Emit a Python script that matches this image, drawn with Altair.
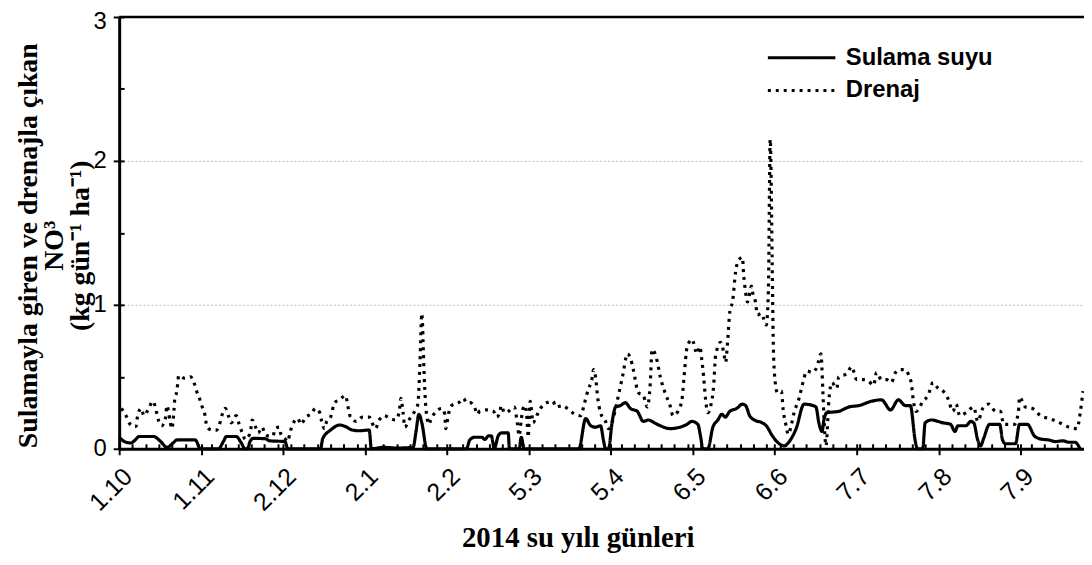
import altair as alt
import pandas as pd

# ---------------- data ----------------
series_names = ["Sulama suyu", "Drenaj"]

tick_days = [0, 31, 62, 93, 124, 155, 186, 217, 248, 279, 310, 341]
tick_labels = ["1.10", "1.11", "2.12", "2.1", "2.2", "5.3", "5.4", "6.5", "6.6", "7.7", "7.8", "7.9"]
minor_tick_days = [5, 10, 15, 20, 25, 30, 35, 40, 45, 50, 55, 60, 65, 70, 75, 80, 85, 90, 95, 100,
                   105, 110, 115, 120, 125, 130, 135, 140, 145, 150, 155, 160, 165, 170, 175, 180,
                   185, 190, 195, 200, 205, 210, 215, 220, 225, 230, 235, 240, 245, 250, 255, 260,
                   265, 270, 275, 280, 285, 290, 295, 300, 305, 310, 315, 320, 325, 330, 335, 340,
                   345, 350, 355, 360]
y_major = [0, 1, 2, 3]
y_minor = [0, 0.5, 1, 1.5, 2, 2.5, 3]
Y_MAX = 3

sulama_days = [0, 2, 4.4, 6, 7.5, 13.1, 15.7, 18.1, 20.7, 21.8, 28.8, 30.7, 37.6, 39.4, 40.6, 44.3,
               46.2, 47.6, 48.5, 49.5, 50.7, 55.1, 57, 62.7, 63.8, 76.2, 77, 80, 83.4, 85.5, 88.2,
               90.9, 94.6, 95.4, 100, 105, 111.2, 112.3, 113.4, 114.5, 116.4, 131.4, 132.6, 134.4,
               137.1, 138.4, 139.7, 140.8, 141.9, 143.4, 144.6, 147.2, 147.6, 151.3, 152.1, 153.2,
               173.9, 176.5, 178.4, 180.2, 182.1, 183.3, 184, 185.1, 186.6, 187.8, 189.6, 191.5,
               193.4, 196, 198.3, 200.2, 202.5, 204.7, 208.4, 212.2, 214.8, 216.7, 218.9, 220,
               220.8, 222.7, 224.6, 226.5, 228, 229.3, 231, 233.6, 235.8, 237, 238.5, 240.3, 243.3,
               244.8, 247.1, 249.7, 251.6, 253.5, 256.1, 259.1, 262.5, 263.6, 264.7, 265.9, 266.6,
               267.7, 272.2, 276, 279.8, 284.6, 288.4, 291.8, 294.8, 297.4, 299.3, 301.2, 302, 304,
               304.9, 307.2, 311.7, 314.5, 316.2, 317.3, 320.3, 322.2, 323.3, 324.8, 325.9, 327,
               329.3, 333.1, 334.2, 335.3, 339.1, 340.6, 343.6, 346.2, 348.1, 351.9, 354.1, 357,
               359.4, 361.6, 363.5]
sulama_vals = [0.08, 0.05, 0.04, 0.06, 0.085, 0.085, 0.05, 0.01, 0.045, 0.062, 0.062, 0.0, 0.0, 0.05,
               0.085, 0.085, 0.04, 0.0, 0.0, 0.05, 0.072, 0.07, 0.055, 0.05, 0.0, 0.0, 0.07, 0.13,
               0.165, 0.155, 0.13, 0.125, 0.13, 0.0, 0.01, 0.005, 0.01, 0.12, 0.24, 0.18, 0.0, 0.0,
               0.06, 0.08, 0.08, 0.065, 0.09, 0.09, 0.0, 0.09, 0.11, 0.11, 0.0, 0.0, 0.08, 0.0,
               0.0, 0.21, 0.16, 0.15, 0.16, 0.05, 0.0, 0.0, 0.2, 0.29, 0.30, 0.32, 0.28, 0.26, 0.19,
               0.20, 0.18, 0.16, 0.14, 0.15, 0.17, 0.19, 0.17, 0.08, 0.0, 0.0, 0.15, 0.2, 0.24,
               0.22, 0.26, 0.28, 0.31, 0.3, 0.23, 0.2, 0.18, 0.16, 0.09, 0.035, 0.02, 0.05, 0.14,
               0.31, 0.30, 0.29, 0.18, 0.12, 0.2, 0.25, 0.26, 0.29, 0.30, 0.33, 0.34, 0.27, 0.34,
               0.30, 0.30, 0.05, 0.0, 0.0, 0.18, 0.2, 0.18, 0.17, 0.12, 0.16, 0.16, 0.19, 0.18,
               0.06, 0.02, 0.07, 0.17, 0.17, 0.06, 0.035, 0.035, 0.17, 0.17, 0.09, 0.07, 0.06,
               0.05, 0.055, 0.045, 0.045, 0.0]

drenaj_days = [0.8, 2.6, 3.8, 5.3, 6.4, 6.8, 8.3, 9.4, 10.9, 12.8, 13.5, 14.3, 15.0, 16.1, 17.6, 18.0,
               19.2, 19.9, 20.7, 21.0, 21.8, 22.2, 22.5, 24.8, 27.0, 28.5, 29.3, 30.4, 31.2, 32.3,
               33.0, 33.8, 35.3, 36.8, 38.3, 39.0, 40.2, 41.3, 42.4, 44.3, 45.4, 46.6, 47.7, 48.8,
               49.9, 50.3, 51.4, 52.6, 54.1, 55.2, 56.3, 58.2, 59.0, 60.5, 61.2, 62.7, 63.8, 64.6,
               65.7, 67.6, 68.7, 70.6, 72.5, 74.3, 75.9, 76.6, 77.7, 78.5, 80.0, 81.5, 83.4, 85.6,
               86.7, 87.5, 89.7, 92.0, 94.6, 96.9, 98.4, 100.3, 102.5, 104.4, 105.9, 106.6, 107.4,
               108.1, 109.6, 110.8, 112.3, 113.0, 113.8, 114.5, 115.3, 116.0, 117.2, 117.9, 119.4,
               122.0, 123.2, 123.5, 124.7, 125.8, 128.4, 130.3, 131.4, 132.9, 134.4, 135.6, 136.3,
               138.9, 141.6, 142.7, 143.8, 144.6, 145.7, 147.2, 149.5, 150.6, 151.3, 152.1, 152.8,
               153.6, 154.3, 154.7, 155.5, 156.6, 157.7, 158.8, 160.7, 164.1, 165.2, 167.8, 170.1,
               172.4, 174.6, 175.7, 176.5, 177.6, 178.7, 179.5, 180.2, 181.0, 182.1, 184.0, 185.1,
               186.6, 188.5, 190.4, 192.3, 193.4, 194.5, 196.4, 198.3, 199.8, 200.9, 201.6, 203.5,
               204.7, 206.5, 208.4, 209.5, 211.4, 212.9, 213.7, 214.8, 216.7, 218.6, 219.7, 220.4,
               221.1, 221.8, 222.7, 223.8, 224.9, 225.6, 227.5, 228.7, 229.4, 230.2, 231.0, 232.1,
               233.2, 234.3, 235.8, 236.2, 236.9, 237.7, 239.2, 239.6, 240.7, 241.5, 243.0, 243.7,
               244.8, 245.6, 246.3, 247.1, 247.5, 248.2, 249.0, 250.5, 251.2, 252.3, 253.1, 254.2,
               255.3, 257.2, 258.4, 260.2, 262.1, 264.0, 265.5, 266.2, 266.6, 267.4, 268.5, 269.6,
               271.5, 272.2, 275.2, 277.1, 279.0, 281.6, 283.5, 285.4, 286.5, 288.4, 290.3, 292.1,
               293.7, 295.5, 297.4, 298.5, 299.7, 300.4, 301.5, 304.1, 306.0, 307.9, 309.8, 311.7,
               313.5, 315.4, 316.6, 318.0, 320.3, 323.3, 324.8, 326.7, 328.9, 331.6, 333.4, 334.6,
               337.2, 338.7, 340.2, 340.6, 342.8, 345.5, 348.5, 351.9, 354.8, 357.9, 362.4, 363.5,
               364.6]
drenaj_vals = [0.28, 0.23, 0.18, 0.155, 0.155, 0.21, 0.28, 0.23, 0.27, 0.33, 0.30, 0.24, 0.19, 0.16,
               0.22, 0.30, 0.20, 0.14, 0.26, 0.34, 0.40, 0.46, 0.51, 0.49, 0.50, 0.45, 0.40, 0.35,
               0.30, 0.25, 0.17, 0.14, 0.13, 0.13, 0.19, 0.24, 0.28, 0.23, 0.18, 0.23, 0.17, 0.11,
               0.065, 0.08, 0.15, 0.20, 0.16, 0.11, 0.15, 0.10, 0.09, 0.09, 0.14, 0.15, 0.10, 0.07,
               0.05, 0.11, 0.17, 0.21, 0.17, 0.22, 0.24, 0.28, 0.25, 0.19, 0.14, 0.19, 0.22, 0.32,
               0.34, 0.37, 0.28, 0.22, 0.19, 0.22, 0.22, 0.14, 0.20, 0.23, 0.21, 0.20, 0.25, 0.35,
               0.25, 0.15, 0.20, 0.23, 0.28, 0.31, 0.60, 0.94, 0.55, 0.29, 0.17, 0.20, 0.25, 0.28,
               0.24, 0.14, 0.25, 0.30, 0.32, 0.35, 0.32, 0.32, 0.29, 0.24, 0.26, 0.27, 0.26, 0.22,
               0.24, 0.30, 0.25, 0.26, 0.29, 0.18, 0.09, 0.20, 0.28, 0.30, 0.20, 0.08, 0.33, 0.18,
               0.22, 0.26, 0.31, 0.33, 0.29, 0.30, 0.27, 0.24, 0.23, 0.29, 0.35, 0.42, 0.47, 0.55,
               0.50, 0.36, 0.25, 0.19, 0.14, 0.19, 0.34, 0.50, 0.66, 0.63, 0.55, 0.39, 0.37, 0.29,
               0.45, 0.69, 0.61, 0.50, 0.39, 0.30, 0.23, 0.26, 0.34, 0.50, 0.70, 0.76, 0.66, 0.71,
               0.62, 0.50, 0.35, 0.25, 0.30, 0.44, 0.64, 0.74, 0.67, 0.60, 0.75, 0.95, 1.03, 1.23,
               1.31, 1.33, 1.22, 1.10, 1.02, 1.13, 1.09, 1.02, 0.93, 0.94, 0.91, 0.86, 1.10, 2.15,
               1.20, 0.69, 0.46, 0.39, 0.40, 0.27, 0.16, 0.10, 0.16, 0.25, 0.35, 0.44, 0.54, 0.53,
               0.57, 0.66, 0.40, 0.23, 0.02, 0.34, 0.46, 0.42, 0.50, 0.52, 0.57, 0.48, 0.48, 0.47,
               0.44, 0.53, 0.48, 0.48, 0.46, 0.53, 0.55, 0.55, 0.52, 0.45, 0.34, 0.26, 0.33, 0.37,
               0.46, 0.42, 0.40, 0.35, 0.26, 0.31, 0.23, 0.25, 0.29, 0.19, 0.28, 0.31, 0.26, 0.26,
               0.17, 0.17, 0.17, 0.26, 0.36, 0.29, 0.28, 0.23, 0.21, 0.19, 0.16, 0.14, 0.24, 0.40]

df = pd.concat([
    pd.DataFrame({"day": sulama_days, "value": sulama_vals, "series": series_names[0]}),
    pd.DataFrame({"day": drenaj_days, "value": drenaj_vals, "series": series_names[1]}),
], ignore_index=True)
top_df = pd.DataFrame({"v": [Y_MAX]})

label_expr = "[" + ",".join("'%s'" % t for t in tick_labels) + "][indexof([" + \
    ",".join(str(d) for d in tick_days) + "], datum.value)]"

x_scale = alt.Scale(domain=[0, 365], nice=False, zero=False)
y_scale = alt.Scale(domain=[0, Y_MAX], nice=False)

SANS = "Liberation Sans"
SERIF = "Liberation Serif"

lines = alt.Chart(df).mark_line(strokeWidth=3.2, color="black", interpolate="monotone").encode(
    x=alt.X("day:Q", scale=x_scale, axis=alt.Axis(
        values=tick_days, labelExpr=label_expr, labelAngle=-45, labelFont=SANS, labelFontSize=25,
        labelColor="black", labelPadding=9, tickSize=6, tickWidth=2, tickColor="black",
        domainWidth=3, domainColor="black", grid=False,
        title="2014 su yılı günleri", titleFont=SERIF, titleFontWeight="bold", titleFontSize=29,
        titleColor="black", titleX=462, titleY=98, titleBaseline="alphabetic", titleAlign="center")),
    y=alt.Y("value:Q", scale=y_scale, axis=alt.Axis(
        values=y_major, format="d", labelFont=SANS, labelFontSize=24, labelColor="black",
        labelPadding=7,
        labelOffset={"condition": {"test": "datum.value == 3", "value": 5}, "value": 0},
        tickSize=6, tickWidth=2, tickColor="black", domainWidth=3,
        domainColor="black", grid=True, gridColor="#bdbdbd", gridDash=[2, 2], gridWidth=1,
        title=["Sulamayla giren ve drenajla çıkan", "NO³", "(kg gün⁻¹ ha⁻¹)"],
        titleFont=SERIF, titleFontWeight="bold", titleFontSize=28, titleColor="black",
        titleAngle=270, titleX=-83, titleY=230, titleAlign="center", titleBaseline="alphabetic",
        titleLineHeight=26)),
    strokeDash=alt.StrokeDash("series:N", scale=alt.Scale(domain=series_names, range=[[1, 0], [3, 5]]),
                              legend=alt.Legend(
                                  orient="none", legendX=652, legendY=27, title=None,
                                  symbolType="stroke", symbolSize=4624, symbolStrokeWidth=3,
                                  symbolStrokeColor="black", labelFont=SANS, labelFontSize=24,
                                  labelFontWeight="bold", labelColor="black", labelOffset=9,
                                  clipHeight=28, rowPadding=5, padding=0)),
)

inner_ticks = alt.Chart(df).mark_point(opacity=0).encode(
    x=alt.X("day:Q", scale=x_scale, axis=alt.Axis(
        orient="bottom", values=minor_tick_days + tick_days, labels=False, domain=False, grid=False,
        tickSize=5, tickWidth=2, tickColor="black", offset=-5, title=None)),
    y=alt.Y("value:Q", scale=y_scale, axis=alt.Axis(
        orient="left", values=y_minor, labels=False, domain=False, grid=False,
        tickSize=5, tickWidth=2, tickColor="black", offset=-5, title=None)),
)

top_line = alt.Chart(top_df).mark_rule(color="black", strokeWidth=2.5).encode(
    y=alt.Y("v:Q", scale=y_scale, axis=None)
)

chart = alt.layer(lines, inner_ticks, top_line).resolve_axis(
    x="independent", y="independent"
).properties(
    width=972, height=435, autosize="none",
    padding={"left": 112, "top": 7, "right": 0, "bottom": 106},
    background="white",
).configure_view(stroke=None)

chart.save("out.html", embed_options={"renderer": "svg", "actions": False})
